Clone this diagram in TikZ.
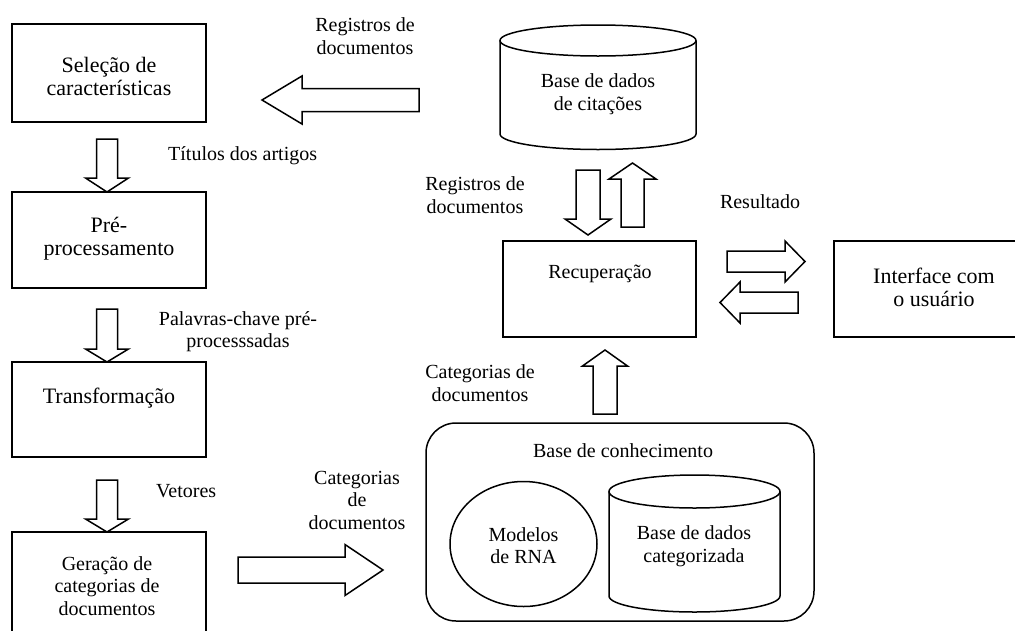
\documentclass[tikz,border=0pt]{standalone}
\usepackage{fontspec}
\setmainfont{Liberation Serif}
\begin{document}
\begin{tikzpicture}[x=1pt,y=-1pt,
  line join=miter,
  box/.style={draw, line width=1.5pt, inner sep=0pt},
  txt/.style={align=center, inner sep=0pt, font=\fontsize{20}{22.5}\selectfont},
  txtl/.style={align=center, inner sep=0pt, font=\fontsize{22}{23.5}\selectfont},
  blockline/.style={draw, line width=1.5pt, fill=white},
  % hollow block arrow: length / shaft half-width / head half-width / head length
  pics/barrow/.style args={#1/#2/#3/#4}{code={
    \path[blockline] (0,-#2) -- ({#1-#4},-#2) -- ({#1-#4},-#3) -- (#1,0)
      -- ({#1-#4},#3) -- ({#1-#4},#2) -- (0,#2) -- cycle;}}
]
\useasboundingbox (0,0) rectangle (1015,630);
\clip (0,0) rectangle (1015,630);

% ---- left column: processing pipeline
\node[box, minimum width=194, minimum height=98] (sel) at (109,73) {};
\node[txtl] (selt) at (109,76.5) {Seleção de\\características};
\node[box, minimum width=194, minimum height=96] (pre) at (109,240) {};
\node[txtl] (pret) at (109,238.5) {Pré-\\processamento};
\node[box, minimum width=194, minimum height=95] (tra) at (109,409.5) {};
\node[txtl] (trat) at (109,398) {Transformação};
\node[box, minimum width=194, minimum height=113] (ger) at (109,588.5) {};
\node[txt] (gert) at (107,586) {Geração de\\categorias de\\documentos};

\pic at (107,139) [rotate=-90] {barrow=53/10.5/21.5/14};
\node[txt, anchor=west] (l1) at (168,156) {Títulos dos artigos};
\pic at (107,309) [rotate=-90] {barrow=53/10.5/21.5/13};
\node[txt] (l2) at (238,331.5) {Palavras-chave pré-\\processsadas};
\pic at (107,480) [rotate=-90] {barrow=52/10.5/21.5/13};
\node[txt, anchor=west] (l3) at (156,491) {Vetores};

% ---- citation database
\draw[line width=1.5pt] (500,40.5) -- (500,134)
  arc[start angle=180, end angle=0, x radius=98, y radius=15.5] -- (696,40.5);
\draw[line width=1.5pt] (598,40.5) ellipse[x radius=98, y radius=15.5];
\node[txt] (cit) at (598,94) {Base de dados\\de citações};

\pic at (419,100) [rotate=180] {barrow=157/11.5/24/40};
\node[txt] (l4) at (365,36) {Registros de\\documentos};

% ---- retrieval and user interface
\node[box, minimum width=193, minimum height=96] (rec) at (599.5,289) {};
\node[txt] (rect) at (600,274) {Recuperação};
\node[box, minimum width=202, minimum height=96] (ifc) at (935,289) {};
\node[txtl] (ifct) at (934,287.5) {Interface com\\o usuário};

\pic at (588,170) [rotate=-90] {barrow=65/12/23/16};
\pic at (632.5,227) [rotate=90] {barrow=64/11.5/23.5/16};
\node[txt] (l5) at (475,195) {Registros de\\documentos};

\pic at (727,261.5) {barrow=78/10.5/20.5/20};
\pic at (798,302.5) [rotate=180] {barrow=78/10.5/20.5/20};
\node[txt] (l6) at (760,202) {Resultado};

% ---- knowledge base
\draw[line width=1.5pt, rounded corners=30] (426,423) rectangle (814,621);
\node[txt] (kb) at (623,451) {Base de conhecimento};
\draw[line width=1.5pt] (523.5,544) ellipse[x radius=73.5, y radius=62.5];
\node[txt] (rna) at (523.5,545.5) {Modelos\\de RNA};
\draw[line width=1.5pt] (609,491.5) -- (609,596)
  arc[start angle=180, end angle=0, x radius=85.5, y radius=16] -- (780,491.5);
\draw[line width=1.5pt] (694.5,491.5) ellipse[x radius=85.5, y radius=16.5];
\node[txt] (cat) at (694,546) {Base de dados\\categorizada};

\pic at (605,414) [rotate=90] {barrow=64/12/22.5/16};
\node[txt] (l7) at (480,383) {Categorias de\\documentos};

\pic at (238,570) {barrow=145/13/25.5/38};
\node[txt] (l8) at (357,500) {Categorias\\de\\documentos};
\end{tikzpicture}
\end{document}
